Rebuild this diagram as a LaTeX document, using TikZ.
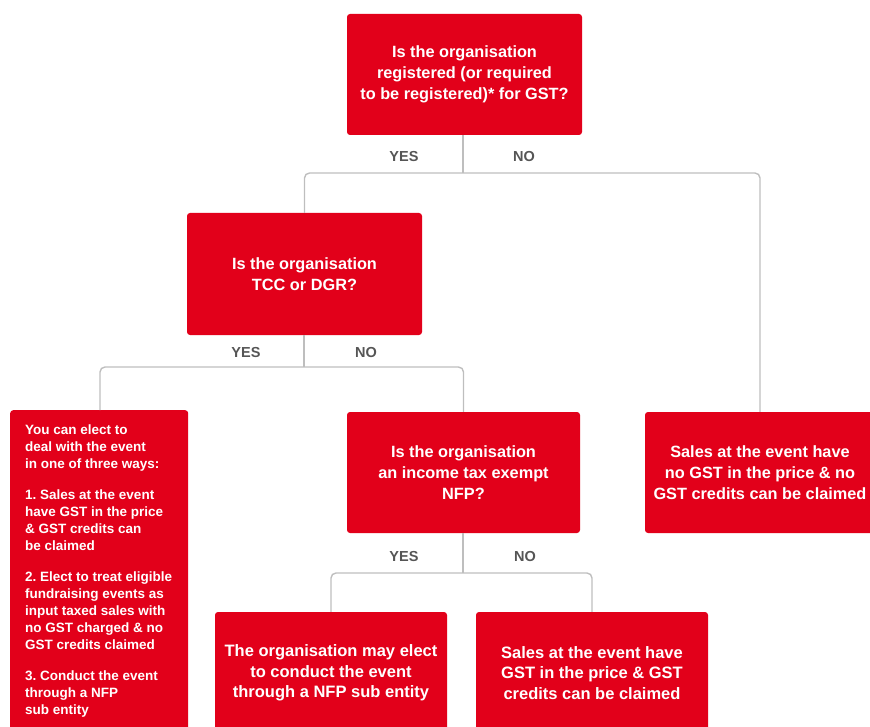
\documentclass[tikz,border=0pt]{standalone}
\usepackage{fontspec}
\setmainfont{Liberation Sans}
\usetikzlibrary{calc}
\definecolor{boxred}{HTML}{E2001A}
\definecolor{linegray}{HTML}{BEBEBE}
\definecolor{labgray}{HTML}{555555}
\frenchspacing
\begin{document}
\begin{tikzpicture}[x=1pt,y=-1pt,
  qbox/.style={fill=boxred,rounded corners=3pt,text=white,align=center,
    font=\bfseries\fontsize{16.3}{21}\selectfont,inner sep=0pt},
  conn/.style={draw=linegray,line width=1.4pt,rounded corners=5pt},
  lab/.style={text=labgray,font=\bfseries\fontsize{14.5}{16}\selectfont,inner sep=0pt}]
\useasboundingbox (0,0) rectangle (870,727);
\clip (0,0) rectangle (870,727);
% boxes
\node[qbox,minimum width=235pt,minimum height=121pt] (top) at (464.5,74.5)
  {Is the organisation\\registered (or required\\to be registered)* for GST?};
\node[qbox,minimum width=235pt,minimum height=122pt] (tcc) at (304.5,274)
  {Is the organisation\\TCC or DGR?};
\node[qbox,minimum width=233pt,minimum height=121pt] (nfp) at (463.5,472.5)
  {Is the organisation\\an income tax exempt\\NFP?};
\node[qbox,minimum width=230pt,minimum height=121pt] (nogst) at (760,472.5)
  {Sales at the event have\\no GST in the price \& no\\GST credits can be claimed};
\node[qbox,anchor=north west,inner xsep=15pt,inner ysep=15pt,align=left] (ways) at (10,410)
  {\begin{minipage}[t][318pt][t]{148pt}\raggedright
   \fontsize{13.5}{17}\selectfont
   You can elect to\\deal with the event\\in one of three ways:\par\vspace{14pt}
   1. Sales at the event\\have GST in the price\\\& GST credits can\\be claimed\par\vspace{14pt}
   2. Elect to treat eligible\\fundraising events as\\input taxed sales with\\no GST charged \& no\\GST credits claimed\par\vspace{14pt}
   3. Conduct the event\\through a NFP\\sub entity
   \end{minipage}};
\node[qbox,minimum width=232pt,minimum height=122pt,font=\bfseries\fontsize{16.5}{20.5}\selectfont] (sub) at (331,673)
  {The organisation may elect\\to conduct the event\\through a NFP sub entity};
\node[qbox,minimum width=232pt,minimum height=122pt,font=\bfseries\fontsize{16.5}{20.5}\selectfont] (gst) at (592,673)
  {Sales at the event have\\GST in the price \& GST\\credits can be claimed};
% junctions
\coordinate (j1) at (463,173);
\coordinate (j2) at (304,367);
\coordinate (j3) at (463,573);
% connectors
\draw[conn] (j1 |- top.south) -- (j1);
\draw[conn] (tcc.north) |- (j1) -| (nogst.north);
\draw[conn] (j2 |- tcc.south) -- (j2);
\draw[conn] (100,410) |- (j2) -| (nfp.north);
\draw[conn] (j3 |- nfp.south) -- (j3);
\draw[conn] (sub.north) |- (j3) -| (gst.north);
% labels
\node[lab] (y1) at (404,157) {YES};
\node[lab] (n1) at (524,157) {NO};
\node[lab] (y2) at (246,353) {YES};
\node[lab] (n2) at (366,353) {NO};
\node[lab] (y3) at (404,557) {YES};
\node[lab] (n3) at (525,557) {NO};
\end{tikzpicture}
\end{document}
